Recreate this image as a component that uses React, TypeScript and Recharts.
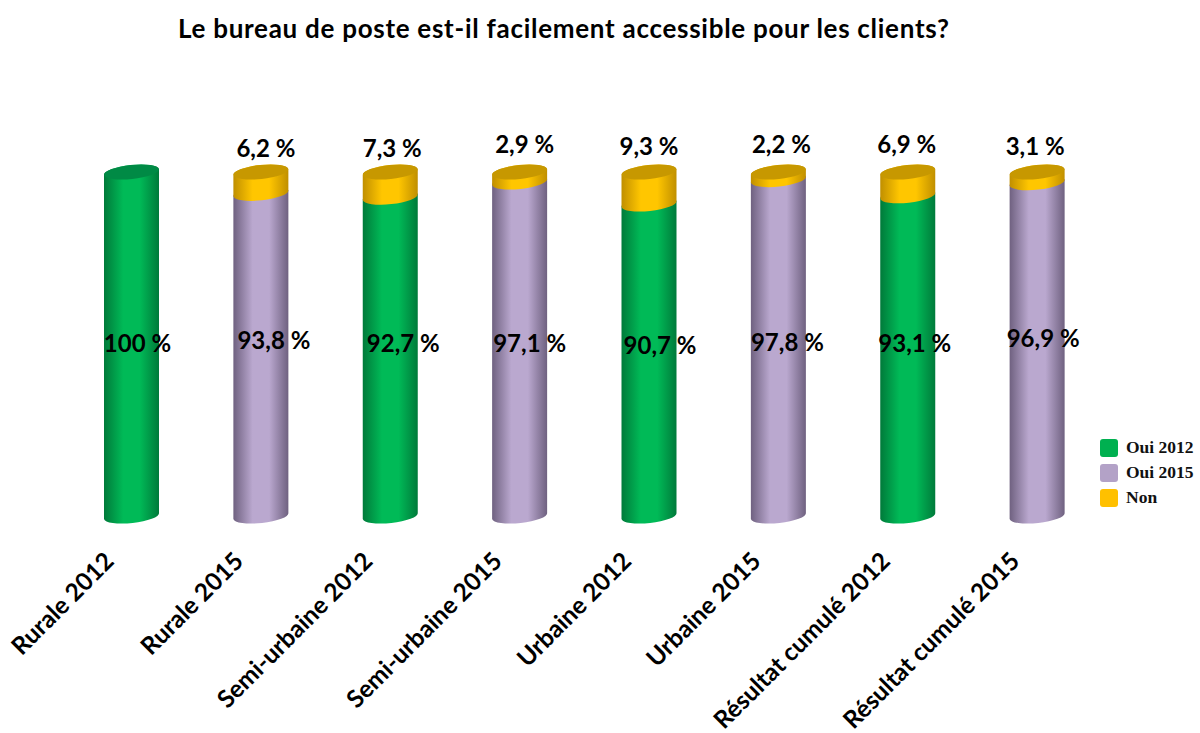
import React from 'react';
import { BarChart, Bar, XAxis, YAxis, Legend, LabelList } from 'recharts';

const categories = [
  'Rurale 2012',
  'Rurale 2015',
  'Semi-urbaine 2012',
  'Semi-urbaine 2015',
  'Urbaine 2012',
  'Urbaine 2015',
  'Résultat cumulé 2012',
  'Résultat cumulé 2015',
];
const oui2012 = [100, null, 92.7, null, 90.7, null, 93.1, null];
const oui2015 = [null, 93.8, null, 97.1, null, 97.8, null, 96.9];
const non = [null, 6.2, 7.3, 2.9, 9.3, 2.2, 6.9, 3.1];

const data = categories.map((name, i) => ({
  name,
  oui2012: oui2012[i],
  oui2015: oui2015[i],
  non: non[i],
}));

// small nudges so the labels land where the original had them
const ouiLabelDx = [6, 13, 13, 10, 11, 9, 7, 6];
const ouiLabelY = [342, 339, 342, 342, 344, 341, 342, 337];
const nonLabelDx = [0, 5, 2, 5, 0, 3, -1, -2];
const nonLabelDy = [0, -25, -25, -29, -27, -29, -29, -27];

const LABEL_FONT = 'Lato, sans-serif';
const RY = 7;
const TILT = 3;
const TILT_DEG = -6;

const fmt = (v: number) => `${String(v).replace('.', ',')} %`;

const Cylinder = (props: any) => {
  const { x, y, width, height, gradient, capColor, alwaysCap, payload } = props;
  if (!height || height <= 0) return null;
  const rx = width / 2;
  const cx = x + rx;
  const bottom = y + height;
  const d = [
    `M ${cx - rx} ${y + TILT}`,
    `L ${cx - rx} ${bottom + TILT}`,
    `A ${rx} ${RY} ${TILT_DEG} 0 0 ${cx + rx} ${bottom - TILT}`,
    `L ${cx + rx} ${y - TILT}`,
    `A ${rx} ${RY} ${TILT_DEG} 0 0 ${cx - rx} ${y + TILT}`,
    'Z',
  ].join(' ');
  const showCap = alwaysCap || payload.non == null;
  return (
    <g>
      <path d={d} fill={`url(#${gradient})`} />
      {showCap && (
        <ellipse
          cx={cx}
          cy={y}
          rx={rx}
          ry={RY}
          fill={capColor}
          transform={`rotate(${TILT_DEG} ${cx} ${y})`}
        />
      )}
    </g>
  );
};

const OuiLabel = (props: any) => {
  const { x, width, value, index } = props;
  if (value == null) return null;
  return (
    <text
      x={x + width / 2 + ouiLabelDx[index]}
      y={ouiLabelY[index]}
      textAnchor="middle"
      dominantBaseline="central"
      fontFamily={LABEL_FONT}
      fontWeight={700}
      fontSize={24}
      fill="#000"
    >
      {fmt(value)}
    </text>
  );
};

const NonLabel = (props: any) => {
  const { x, y, width, value, index } = props;
  if (value == null) return null;
  return (
    <text
      x={x + width / 2 + nonLabelDx[index]}
      y={y + nonLabelDy[index]}
      textAnchor="middle"
      dominantBaseline="central"
      fontFamily={LABEL_FONT}
      fontWeight={700}
      fontSize={24}
      fill="#000"
    >
      {fmt(value)}
    </text>
  );
};

const AngledTick = (props: any) => {
  const { x, y, payload } = props;
  return (
    <text
      x={0}
      y={0}
      transform={`translate(${x - 23} ${y + 32}) rotate(-45)`}
      textAnchor="end"
      dominantBaseline="central"
      fontFamily={LABEL_FONT}
      fontWeight={700}
      fontSize={24.5}
      fill="#000"
    >
      {payload.value}
    </text>
  );
};

const LegendBox = (props: any) => (
  <div>
    {props.payload.map((entry: any) => (
      <div
        key={entry.value}
        style={{ display: 'flex', alignItems: 'center', height: 25 }}
      >
        <span
          style={{
            width: 18,
            height: 18,
            borderRadius: 3,
            background: entry.color,
            marginRight: 8,
          }}
        />
        <span
          style={{
            fontFamily: '"Liberation Serif", serif',
            fontWeight: 700,
            fontSize: 17.5,
            color: '#111',
          }}
        >
          {entry.value}
        </span>
      </div>
    ))}
  </div>
);

const Gradient = ({ id, edge, mid }: { id: string; edge: string; mid: string }) => (
  <linearGradient id={id} x1="0" y1="0" x2="1" y2="0">
    <stop offset="0%" stopColor={edge} />
    <stop offset="35%" stopColor={mid} />
    <stop offset="65%" stopColor={mid} />
    <stop offset="100%" stopColor={edge} />
  </linearGradient>
);

export default function App() {
  return (
    <div style={{ position: 'absolute', left: 0, top: 0, width: 1200, height: 733, background: '#fff' }}>
      <div
        style={{
          position: 'absolute',
          left: 178,
          top: 12,
          fontFamily: LABEL_FONT,
          fontWeight: 700,
          fontSize: 26,
          letterSpacing: 0.72,
          lineHeight: '32px',
          whiteSpace: 'nowrap',
          color: '#000',
        }}
      >
        Le bureau de poste est-il facilement accessible pour les clients?
      </div>
      <BarChart
        width={1200}
        height={733}
        data={data}
        margin={{ top: 172, right: 98, bottom: 0, left: 67 }}
        barSize={55}
      >
        <defs>
          <Gradient id="gradGreen" edge="#007a3a" mid="#00ba57" />
          <Gradient id="gradPurple" edge="#6f6180" mid="#baa8cf" />
          <Gradient id="gradYellow" edge="#c08f00" mid="#ffc600" />
        </defs>
        <XAxis
          dataKey="name"
          interval={0}
          height={217}
          axisLine={false}
          tickLine={false}
          tick={<AngledTick />}
        />
        <YAxis hide domain={[0, 100]} />
        <Legend
          layout="vertical"
          align="center"
          verticalAlign="middle"
          itemSorter={null}
          content={<LegendBox />}
          wrapperStyle={{ left: 1100, top: 435, width: 100 }}
        />
        <Bar
          dataKey="oui2012"
          name="Oui 2012"
          stackId="a"
          fill="#00b050"
          isAnimationActive={false}
          shape={<Cylinder gradient="gradGreen" capColor="#008a45" />}
        >
          <LabelList dataKey="oui2012" content={<OuiLabel />} />
        </Bar>
        <Bar
          dataKey="oui2015"
          name="Oui 2015"
          stackId="a"
          fill="#b3a2c7"
          isAnimationActive={false}
          shape={<Cylinder gradient="gradPurple" capColor="#8f7fa3" />}
        >
          <LabelList dataKey="oui2015" content={<OuiLabel />} />
        </Bar>
        <Bar
          dataKey="non"
          name="Non"
          stackId="a"
          fill="#ffc000"
          isAnimationActive={false}
          shape={<Cylinder gradient="gradYellow" capColor="#c79800" alwaysCap />}
        >
          <LabelList dataKey="non" content={<NonLabel />} />
        </Bar>
      </BarChart>
    </div>
  );
}
